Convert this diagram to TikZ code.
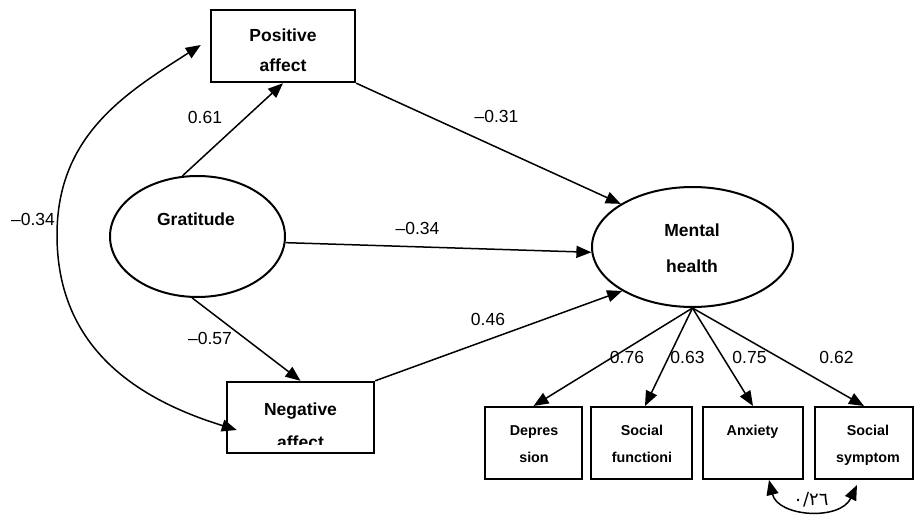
\documentclass[tikz,border=0pt]{standalone}
\usepackage{fontspec}
\setmainfont{Liberation Sans}
\newfontfamily\arabicfont[Script=Arabic]{DejaVu Sans}
\usetikzlibrary{arrows.meta,shapes.geometric}
\begin{document}
\begin{tikzpicture}[x=1pt,y=1pt,
  boxnode/.style={draw,line width=2.4pt,rectangle,inner sep=0pt},
  ellnode/.style={draw,line width=2pt,ellipse,inner sep=0pt},
  lbl/.style={font=\fontsize{17.5}{20}\selectfont,anchor=base,inner sep=0pt},
  bigtxt/.style={font=\fontsize{17.5}{20}\selectfont\bfseries,anchor=base,inner sep=0pt},
  smalltxt/.style={font=\fontsize{14.3}{16}\selectfont\bfseries,anchor=base,inner sep=0pt},
  arr/.style={line width=1.5pt,-{Triangle[length=15pt,width=12pt]}},
  darr/.style={line width=1.5pt,{Triangle[length=15pt,width=12pt]}-{Triangle[length=15pt,width=12pt]}}
]
\useasboundingbox[fill=white] (0,0) rectangle (916,515);

% shapes
\node[boxnode,minimum width=144pt,minimum height=72pt] (pos) at (283,469) {};
\node[boxnode,minimum width=147pt,minimum height=71pt] (neg) at (300.5,97.5) {};
\node[ellnode,minimum width=175pt,minimum height=121pt] (grat) at (197.5,278.5) {};
\node[ellnode,minimum width=201pt,minimum height=120pt] (mh) at (692.5,268) {};
\node[boxnode,line width=2pt,minimum width=97pt,minimum height=72pt] (dep) at (533.5,72) {};
\node[boxnode,line width=2pt,minimum width=101pt,minimum height=72pt] (sf) at (641.5,72) {};
\node[boxnode,line width=2pt,minimum width=100pt,minimum height=72pt] (anx) at (753,72) {};
\node[boxnode,line width=2pt,minimum width=98pt,minimum height=72pt] (ss) at (864,72) {};

% texts
\node[bigtxt] (tpos1) at (283,473) {Positive};
\node[bigtxt] (tpos2) at (283,443) {affect};
\node[bigtxt] (tgrat) at (196,290) {Gratitude};
\node[bigtxt] (tmh1) at (692,278) {Mental};
\node[bigtxt] (tmh2) at (692,243) {health};
\node[bigtxt] (tneg1) at (300.5,100) {Negative};
\begin{scope}
  \clip (228,71) rectangle (373,132);
  \node[bigtxt] (tneg2) at (300.5,67) {affect};
\end{scope}
\node[smalltxt] (tdep1) at (534,80) {Depres};
\node[smalltxt] (tdep2) at (534,53) {sion};
\node[smalltxt] (tsf1) at (642,80) {Social};
\node[smalltxt] (tsf2) at (642,53) {functioni};
\node[smalltxt] (tanx) at (752.5,80) {Anxiety};
\node[smalltxt] (tss1) at (868,80) {Social};
\node[smalltxt] (tss2) at (868,53) {symptom};

% connectors
\draw[arr] (grat.104) -- (pos.south);
\draw[arr] (pos.south east) -- (mh.149);
\draw[arr] (grat.-4) -- (mh.183.5);
\draw[arr] (grat.265) -- (neg.north);
\draw[arr] (neg.north east) -- (mh.212);
\draw[arr] (mh.south) -- (dep.north);
\draw[arr] (mh.south) -- ([xshift=3.5pt]sf.north);
\draw[arr] (mh.south) -- (anx.north);
\draw[arr] (mh.south) -- (ss.north);

\coordinate (ca) at ([xshift=-9pt,yshift=1pt]pos.west);
\coordinate (cb) at ([xshift=11pt,yshift=-12.5pt]neg.west);
\coordinate (cm) at (57,280);
\draw[darr] (cb) .. controls (133,117) and (57,170) .. (cm)
  .. controls (57,380) and (126,422) .. (ca);

\coordinate (cl) at (769,35);
\coordinate (cr) at (857,30);
\draw[darr] (cl) .. controls (778,-2) and (840,-6) .. (cr);

% labels
\node[lbl] (l1) at (205,391) {0.61};
\node[lbl] (l2) at (496.5,392) {\textendash0.31};
\node[lbl] (l3) at (417.5,280) {\textendash0.34};
\node[lbl] (l4) at (488,190) {0.46};
\node[lbl] (l5) at (210,171) {\textendash0.57};
\node[lbl] (l6) at (33,290) {\textendash0.34};
\node[lbl] (l7) at (627,152) {0.76};
\node[lbl] (l8) at (687.5,152) {0.63};
\node[lbl] (l9) at (749.5,152) {0.75};
\node[lbl] (l10) at (836.5,152) {0.62};
\node[anchor=base,inner sep=0pt,font=\arabicfont\fontsize{18}{20}\selectfont] (l11) at (811,10) {٠/٢٦};
\end{tikzpicture}
\end{document}
